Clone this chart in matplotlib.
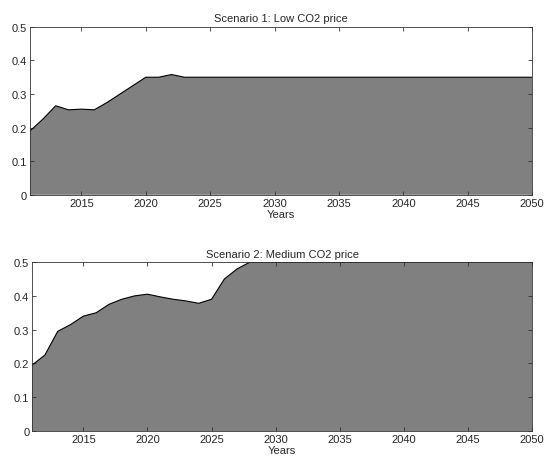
import matplotlib
matplotlib.use("Agg")
import matplotlib.pyplot as plt
import numpy as np

years = list(range(2011, 2051))
low_head = [0.19, 0.225, 0.265, 0.253, 0.255, 0.253, 0.275, 0.30, 0.325, 0.35,
            0.35, 0.358, 0.35]
low = low_head + [0.35] * (len(years) - len(low_head))
med_head = [0.195, 0.225, 0.295, 0.315, 0.34, 0.35, 0.375, 0.39, 0.40, 0.405,
            0.397, 0.39, 0.385, 0.378, 0.39, 0.45, 0.48, 0.50]
med = med_head + [0.50] * (len(years) - len(med_head))

titles = ["Scenario 1: Low CO2 price", "Scenario 2: Medium CO2 price"]
series = [low, med]
yticks = [0, 0.1, 0.2, 0.3, 0.4, 0.5]
ytick_labels = ["0", "0.1", "0.2", "0.3", "0.4", "0.5"]
xticks = [2015, 2020, 2025, 2030, 2035, 2040, 2045, 2050]

plt.rcParams['font.family'] = ['Liberation Sans', 'DejaVu Sans']
fig = plt.figure(figsize=(5.44, 4.64), dpi=100)
positions = [[0.055, 0.578, 0.923, 0.362], [0.059, 0.069, 0.919, 0.364]]
txt = '#262626'

for pos, title, vals in zip(positions, titles, series):
    ax = fig.add_axes(pos)
    ax.fill_between(years, vals, 0, facecolor='#808080', edgecolor='none')
    ax.plot(years, vals, color='black', lw=0.8)
    ax.set_xlim(2011, 2050)
    ax.set_ylim(0, 0.5)
    ax.set_yticks(yticks)
    ax.set_yticklabels(ytick_labels)
    ax.set_xticks(xticks)
    ax.tick_params(direction='in', top=True, right=True, labelsize=8, length=3,
                   width=0.6, pad=2, labelcolor=txt, color='#333333')
    for s in ax.spines.values():
        s.set_linewidth(0.6)
        s.set_color('#333333')
    ax.set_title(title, fontsize=8, pad=4, color=txt)
    ax.set_xlabel("Years", fontsize=8, labelpad=1, color=txt)

fig.savefig("out.png", dpi=100)
